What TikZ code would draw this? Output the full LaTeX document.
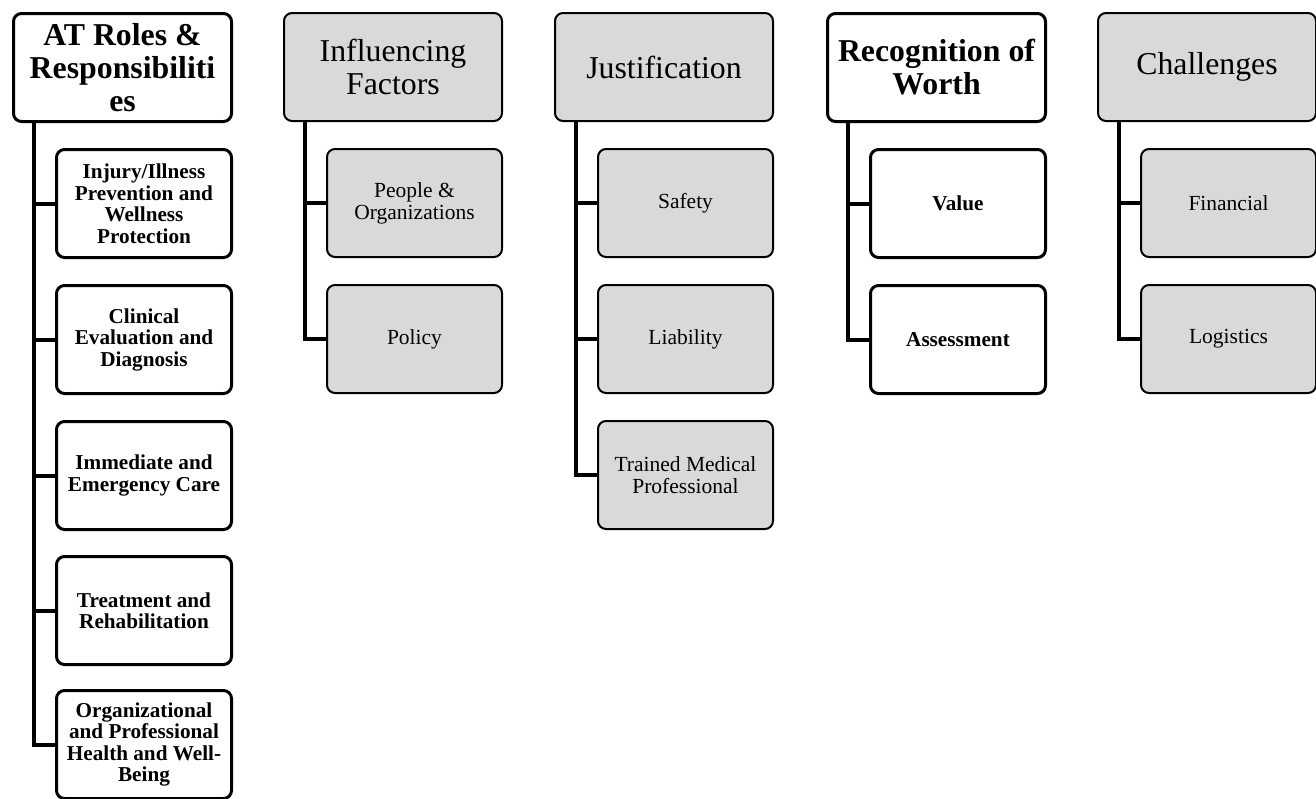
\documentclass[tikz,border=0pt]{standalone}
\usepackage{fontspec}
\setmainfont{Liberation Serif}
\definecolor{boxgrey}{HTML}{D9D9D9}
\begin{document}
\begin{tikzpicture}[x=1pt,y=-1pt,
  base/.style={draw=black, rounded corners=8pt, align=center, anchor=north west, inner sep=2pt},
  titleW/.style={base, line width=3pt, fill=white, minimum width=218pt, minimum height=108pt, font=\fontsize{31.8}{33}\selectfont\bfseries},
  titleG/.style={base, line width=2pt, fill=boxgrey, minimum width=218pt, minimum height=108pt, font=\fontsize{31.8}{33}\selectfont},
  childW/.style={base, line width=3pt, fill=white, minimum width=175pt, minimum height=108pt, font=\fontsize{21.2}{21.5}\selectfont\bfseries},
  childG/.style={base, line width=2pt, fill=boxgrey, minimum width=175pt, minimum height=108pt, font=\fontsize{21.5}{22}\selectfont},
  conn/.style={draw=black, line width=4pt, line join=miter}]
\useasboundingbox (0,0) rectangle (1316,798);

% Column 1
\node[titleW] (t1) at (12,12) {AT Roles \&\\Responsibiliti\\es};
\node[childW] (c11) at (55,148) {Injury/Illness\\Prevention and\\Wellness\\Protection};
\node[childW] (c12) at (55,284) {Clinical\\Evaluation and\\Diagnosis};
\node[childW] (c13) at (55,420) {Immediate and\\Emergency Care};
\node[childW] (c14) at (55,555) {Treatment and\\Rehabilitation};
\node[childW] (c15) at (55,689) {Organizational\\and Professional\\Health and Well-\\Being};

% Column 2
\node[titleG] (t2) at (283,12) {Influencing\\Factors};
\node[childG] (c21) at (326,148) {People \&\\Organizations};
\node[childG] (c22) at (326,284) {Policy};

% Column 3
\node[titleG] (t3) at (554,12) {Justification};
\node[childG] (c31) at (597,148) {Safety};
\node[childG] (c32) at (597,284) {Liability};
\node[childG] (c33) at (597,420) {Trained Medical\\Professional};

% Column 4
\node[titleW] (t4) at (826,12) {Recognition of\\Worth};
\node[childW] (c41) at (869,148) {Value};
\node[childW] (c42) at (869,284) {Assessment};

% Column 5
\node[titleG] (t5) at (1097,12) {Challenges};
\node[childG] (c51) at (1140,148) {Financial};
\node[childG] (c52) at (1140,284) {Logistics};

% Connectors
\foreach \c in {c11,c12,c13,c14,c15}
  \draw[conn] ([xshift=21.5pt]t1.south west) |- (\c.west);
\foreach \c in {c21,c22}
  \draw[conn] ([xshift=21.5pt]t2.south west) |- (\c.west);
\foreach \c in {c31,c32,c33}
  \draw[conn] ([xshift=21.5pt]t3.south west) |- (\c.west);
\foreach \c in {c41,c42}
  \draw[conn] ([xshift=21.5pt]t4.south west) |- (\c.west);
\foreach \c in {c51,c52}
  \draw[conn] ([xshift=21.5pt]t5.south west) |- (\c.west);
\end{tikzpicture}
\end{document}
